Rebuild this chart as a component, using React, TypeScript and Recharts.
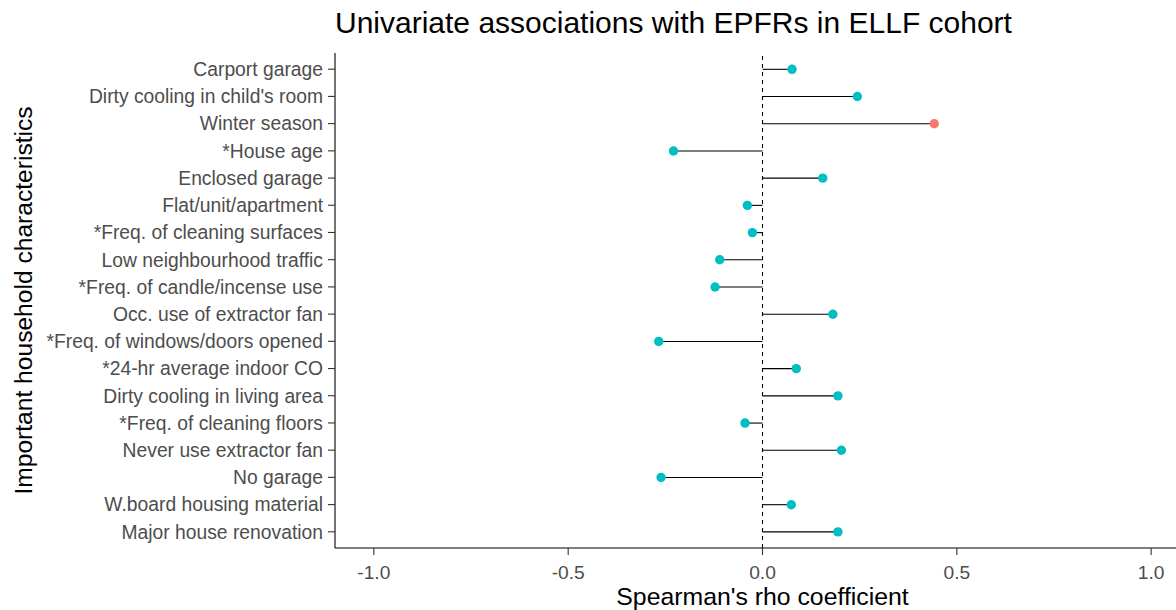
import React from "react";
import {
  ComposedChart,
  Bar,
  XAxis,
  YAxis,
  ReferenceLine,
  Label,
} from "recharts";

const categories = [
  "Carport garage",
  "Dirty cooling in child's room",
  "Winter season",
  "*House age",
  "Enclosed garage",
  "Flat/unit/apartment",
  "*Freq. of cleaning surfaces",
  "Low neighbourhood traffic",
  "*Freq. of candle/incense use",
  "Occ. use of extractor fan",
  "*Freq. of windows/doors opened",
  "*24-hr average indoor CO",
  "Dirty cooling in living area",
  "*Freq. of cleaning floors",
  "Never use extractor fan",
  "No garage",
  "W.board housing material",
  "Major house renovation",
];

const rhoValues = [
  0.076, 0.244, 0.442, -0.229, 0.155, -0.039, -0.026, -0.11, -0.122, 0.181,
  -0.267, 0.087, 0.194, -0.045, 0.203, -0.261, 0.074, 0.194,
];

const colourGroup = [
  "B", "B", "A", "B", "B", "B", "B", "B", "B", "B", "B", "B", "B", "B", "B",
  "B", "B", "B",
];

const xTicks = [-1, -0.5, 0, 0.5, 1];

const groupColours: Record<string, string> = { A: "#F8766D", B: "#00BFC4" };

const data = categories.map((name, i) => ({
  name,
  value: rhoValues[i],
  group: colourGroup[i],
}));

const FONT = "'Liberation Sans', Arial, sans-serif";

const Lollipop = (props: any) => {
  const { x, y, width, height, payload } = props;
  const a = x;
  const b = x + width;
  const lo = Math.min(a, b);
  const hi = Math.max(a, b);
  const cy = y + height / 2;
  const positive = payload.value >= 0;
  const zeroX = positive ? lo : hi;
  const endX = positive ? hi : lo;
  return (
    <g>
      <line x1={zeroX} x2={endX} y1={cy} y2={cy} stroke="#000" strokeWidth={1.1} />
      <circle cx={endX} cy={cy} r={4.7} fill={groupColours[payload.group]} />
    </g>
  );
};

export default function App() {
  return (
    <div
      style={{
        position: "fixed",
        left: 0,
        top: 0,
        width: 1176,
        height: 610,
        overflow: "hidden",
        background: "#fff",
      }}
    >
      <div
        style={{
          position: "absolute",
          left: 335,
          top: 8,
          fontFamily: FONT,
          fontSize: 30,
          lineHeight: "30px",
          color: "#000",
          whiteSpace: "nowrap",
        }}
      >
        Univariate associations with EPFRs in ELLF cohort
      </div>
      <ComposedChart
        width={1200}
        height={610}
        data={data}
        layout="vertical"
        margin={{ top: 53, right: 10, bottom: 0, left: 0 }}
      >
        <XAxis
          type="number"
          domain={[-1.1, 1.1]}
          ticks={xTicks}
          allowDataOverflow
          height={62}
          tickSize={7}
          tickMargin={10}
          tickFormatter={(v: number) => v.toFixed(1)}
          axisLine={{ stroke: "#000", strokeWidth: 1.1 }}
          tickLine={{ stroke: "#333", strokeWidth: 1.1 }}
          tick={{ fill: "#4D4D4D", fontSize: 19.2, fontFamily: FONT }}
        >
          <Label
            content={(p: any) => {
              const vb = p.viewBox;
              return (
                <text
                  x={vb.x + vb.width / 2}
                  y={vb.y + 57}
                  textAnchor="middle"
                  fontSize={24.8}
                  fontFamily={FONT}
                  fill="#000"
                >
                  Spearman's rho coefficient
                </text>
              );
            }}
          />
        </XAxis>
        <YAxis
          type="category"
          dataKey="name"
          width={335}
          tickSize={7}
          tickMargin={5}
          padding={{ top: 2.6, bottom: 2.6 }}
          interval={0}
          axisLine={{ stroke: "#000", strokeWidth: 1.1 }}
          tickLine={{ stroke: "#333", strokeWidth: 1.1 }}
          tick={{ fill: "#4D4D4D", fontSize: 19.3, fontFamily: FONT }}
        >
          <Label
            content={(p: any) => {
              const vb = p.viewBox;
              const cx = vb.x + 32;
              const cy = vb.y + vb.height / 2;
              return (
                <text
                  x={cx}
                  y={cy}
                  transform={`rotate(-90, ${cx}, ${cy})`}
                  textAnchor="middle"
                  fontSize={24.6}
                  fontFamily={FONT}
                  fill="#000"
                >
                  Important household characteristics
                </text>
              );
            }}
          />
        </YAxis>
        <ReferenceLine x={0} stroke="#000" strokeWidth={1.1} strokeDasharray="4 4" />
        <Bar
          dataKey={(d: any) => [0, d.value]}
          shape={Lollipop}
          isAnimationActive={false}
        />
      </ComposedChart>
    </div>
  );
}
